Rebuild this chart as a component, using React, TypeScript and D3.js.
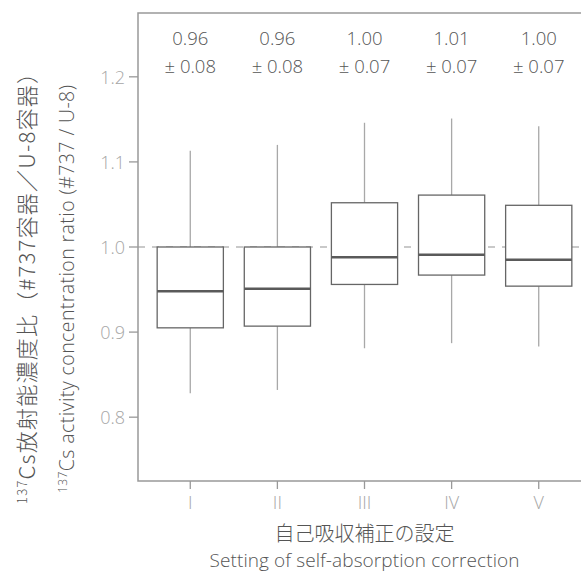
import React from "react";
import * as d3 from "d3";

const categories = ["I", "II", "III", "IV", "V"];
const whiskerLow = [0.828, 0.832, 0.881, 0.887, 0.883];
const q1 = [0.905, 0.907, 0.956, 0.967, 0.954];
const median = [0.948, 0.951, 0.988, 0.991, 0.985];
const q3 = [1.0, 1.0, 1.052, 1.061, 1.049];
const whiskerHigh = [1.113, 1.12, 1.146, 1.151, 1.142];
const meanLabels = ["0.96", "0.96", "1.00", "1.01", "1.00"];
const sdLabels = ["± 0.08", "± 0.08", "± 0.07", "± 0.07", "± 0.07"];
const yTicks = [0.8, 0.9, 1.0, 1.1, 1.2];
const referenceValue = 1.0;

const W = 581;
const H = 573;
const left = 138;
const right = 591;
const top = 13;
const bottom = 481;

const FONT = "'Open Sans', 'Noto Sans CJK JP', sans-serif";
const JFONT = "'Noto Sans CJK JP', 'Open Sans', sans-serif";

export default function App() {
  const x = d3.scalePoint<string>().domain(categories).range([left, right]).padding(0.6);
  const y = d3.scaleLinear().domain([0.725, 1.275]).range([bottom, top]);
  const step = x.step();
  const bw = step * 0.76;
  const midX = (x("I")! + x("V")!) / 2;

  return (
    <svg width={W} height={H} style={{ position: "absolute", left: 0, top: 0, display: "block" }} fontFamily={FONT}>
      <rect x={0} y={0} width={W} height={H} fill="#fff" />
      <line x1={left} x2={right} y1={y(referenceValue)} y2={y(referenceValue)} stroke="#b8b8b8" strokeWidth={1.3} strokeDasharray="7,7" />
      {categories.map((c, i) => {
        const cx = x(c)!;
        return (
          <g key={c}>
            <line x1={cx} x2={cx} y1={y(q3[i])} y2={y(whiskerHigh[i])} stroke="#a8a8a8" strokeWidth={1.3} />
            <line x1={cx} x2={cx} y1={y(q1[i])} y2={y(whiskerLow[i])} stroke="#a8a8a8" strokeWidth={1.3} />
            <rect x={cx - bw / 2} y={y(q3[i])} width={bw} height={y(q1[i]) - y(q3[i])} fill="#fff" stroke="#666" strokeWidth={1.3} />
            <line x1={cx - bw / 2} x2={cx + bw / 2} y1={y(median[i])} y2={y(median[i])} stroke="#5a5a5a" strokeWidth={2.5} />
            <text x={cx} y={45} textAnchor="middle" fontSize={18.5} fontWeight={300} fill="#555">{meanLabels[i]}</text>
            <text x={cx} y={73} textAnchor="middle" fontSize={18.5} fontWeight={300} fill="#555">{sdLabels[i]}</text>
          </g>
        );
      })}
      <rect x={left} y={top} width={right - left} height={bottom - top} fill="none" stroke="#999" strokeWidth={1.5} />
      {yTicks.map((t) => (
        <g key={t}>
          <line x1={left - 9} x2={left} y1={y(t)} y2={y(t)} stroke="#999" strokeWidth={1.3} />
          <text x={left - 13} y={y(t)} dy="0.38em" textAnchor="end" fontSize={18} fontWeight={300} fill="#a6a6a6">{d3.format(".1f")(t)}</text>
        </g>
      ))}
      {categories.map((c) => (
        <g key={c}>
          <line x1={x(c)!} x2={x(c)!} y1={bottom} y2={bottom + 8} stroke="#999" strokeWidth={1.3} />
          <text x={x(c)!} y={509} textAnchor="middle" fontSize={18} fontWeight={300} fill="#a6a6a6">{c}</text>
        </g>
      ))}
      <text x={midX} y={541} textAnchor="middle" fontFamily={JFONT} fontSize={20} fontWeight={300} fill="#555">自己吸収補正の設定</text>
      <text x={midX} y={567} textAnchor="middle" fontSize={19} fontWeight={300} fill="#555" textLength={310} lengthAdjust="spacing">Setting of self-absorption correction</text>
      <text transform="translate(35,283) rotate(-90)" textAnchor="middle" fontFamily={JFONT} fontSize={22} fontWeight={300} fill="#555" textLength={442} lengthAdjust="spacing">
        <tspan fontSize={13} dy="-8">137</tspan>
        <tspan dy="8">Cs放射能濃度比（#737容器／U-8容器）</tspan>
      </text>
      <text transform="translate(74,289) rotate(-90)" textAnchor="middle" fontSize={19.5} fontWeight={300} fill="#555" textLength={408} lengthAdjust="spacing">
        <tspan fontSize={12} dy="-7">137</tspan>
        <tspan dy="7">Cs activity concentration ratio (#737 / U-8)</tspan>
      </text>
    </svg>
  );
}
